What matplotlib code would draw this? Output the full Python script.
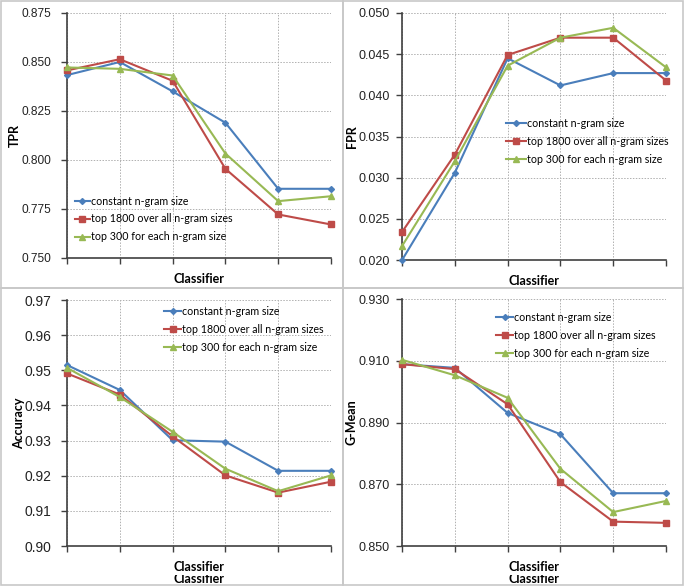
import matplotlib.pyplot as plt
from matplotlib.patches import Rectangle
from matplotlib.transforms import Bbox

# classifier positions (no tick labels in the original)
classifiers = [1, 2, 3, 4, 5, 6]
series_names = ["constant n-gram size",
                "top 1800 over all n-gram sizes",
                "top 300 for each n-gram size"]

tpr_const = [0.8433, 0.8500, 0.8350, 0.8190, 0.7853, 0.7853]
tpr_top1800 = [0.8457, 0.8514, 0.8404, 0.7955, 0.7722, 0.7671]
tpr_top300 = [0.8472, 0.8465, 0.8431, 0.8033, 0.7790, 0.7815]

fpr_const = [0.0200, 0.0306, 0.0445, 0.0412, 0.0427, 0.0427]
fpr_top1800 = [0.0234, 0.0328, 0.0449, 0.0470, 0.0470, 0.0418]
fpr_top300 = [0.0217, 0.0320, 0.0436, 0.0470, 0.0482, 0.0434]

acc_const = [0.9515, 0.9444, 0.9301, 0.9297, 0.9214, 0.9214]
acc_top1800 = [0.9491, 0.9431, 0.9312, 0.9201, 0.9152, 0.9183]
acc_top300 = [0.9507, 0.9424, 0.9325, 0.9220, 0.9156, 0.9201]

gm_const = [0.9089, 0.9077, 0.8931, 0.8862, 0.8671, 0.8671]
gm_top1800 = [0.9089, 0.9073, 0.8959, 0.8707, 0.8579, 0.8575]
gm_top300 = [0.9103, 0.9053, 0.8980, 0.8750, 0.8610, 0.8646]

colors = ["#4a7ebb", "#be4b48", "#98b954"]
markers = ["D", "s", "^"]
msizes = [3, 4.5, 4.5]

TICK_FONT = "Liberation Sans"
TEXT_FONT = "Lato"

fig = plt.figure(figsize=(6.85, 5.87), dpi=100)

# grey panel frames
for (x0, y0, w, h) in [(0.002, 0.510, 0.499, 0.488), (0.501, 0.510, 0.496, 0.488),
                       (0.002, 0.003, 0.499, 0.507), (0.501, 0.003, 0.496, 0.507)]:
    fig.patches.append(Rectangle((x0, y0), w, h, transform=fig.transFigure,
                                 fill=False, edgecolor="#c8c8c8", lw=1.2))

panels = [
    ([0.0978, 0.5605, 0.3854, 0.4174], "TPR", -0.174, (0.750, 0.875),
     [0.750 + 0.025 * i for i in range(6)], "%.3f", 8.6, 7,
     [tpr_const, tpr_top1800, tpr_top300], (0.03, 0.255), 1.4),
    ([0.5869, 0.5570, 0.3854, 0.4209], "FPR", -0.168, (0.020, 0.050),
     [0.020 + 0.005 * i for i in range(7)], "%.3f", 9, 5,
     [fpr_const, fpr_top1800, fpr_top300], (0.395, 0.575), 1.8),
    ([0.0978, 0.0698, 0.3854, 0.4191], "Accuracy", -0.157, (0.90, 0.97),
     [0.90 + 0.01 * i for i in range(8)], "%.2f", 10, 7,
     [acc_const, acc_top1800, acc_top300], (0.368, 0.976), 1.6),
    ([0.5869, 0.0698, 0.3854, 0.4208], "G-Mean", -0.168, (0.850, 0.930),
     [0.850 + 0.02 * i for i in range(5)], "%.3f", 9, 5,
     [gm_const, gm_top1800, gm_top300], (0.357, 0.947), 1.6),
]

for idx, (pos, ylabel, ylx, ylim, yticks, fmt, tsize, tpad, data, legpos, hlen) in enumerate(panels):
    ax = fig.add_axes(pos)
    for vals, name, c, m, ms in zip(data, series_names, colors, markers, msizes):
        ax.plot(classifiers, vals, color=c, marker=m, markersize=ms, lw=1.5,
                label=name, clip_on=False, zorder=3)
    ax.set_xlim(1, 6)
    ax.set_ylim(*ylim)
    ax.set_yticks(yticks)
    ax.set_yticklabels([fmt % t for t in yticks], fontsize=tsize, family=TICK_FONT, color="#222222")
    ax.set_xticks(classifiers)
    ax.set_xticklabels([])
    ax.grid(True, color="#b0b0b0", linestyle=(0, (1.5, 1.5)), lw=0.7)
    ax.spines["top"].set_visible(False)
    ax.spines["right"].set_visible(False)
    for s in ("left", "bottom"):
        ax.spines[s].set_color("#404040")
        ax.spines[s].set_linewidth(1.2)
    ax.tick_params(axis="both", direction="out", length=4, color="#404040", width=1.0)
    ax.tick_params(axis="y", pad=tpad)
    ax.set_ylabel(ylabel, fontsize=9, fontweight="bold", family=TEXT_FONT)
    ax.yaxis.set_label_coords(ylx, 0.5)
    ax.set_xlabel("Classifier", fontsize=9, fontweight="bold", family=TEXT_FONT, labelpad=3)
    ax.legend(loc="upper left", bbox_to_anchor=legpos, frameon=False,
              prop={"family": TEXT_FONT, "size": 7.7}, handlelength=hlen, handletextpad=0.1,
              labelspacing=0.65, borderpad=0, borderaxespad=0)
    if idx >= 2:
        # duplicated, partly hidden axis title seen in the original
        bb = ax.get_position()
        cx = (bb.x0 + bb.x1) / 2
        t = fig.text(cx, 0.006, "Classifier", ha="center", va="baseline",
                     fontsize=9, fontweight="bold", family=TEXT_FONT)
        clip = Bbox.from_extents(0, 0, fig.bbox.width, 0.021 * fig.bbox.height)
        t.set_clip_box(clip)
        t.set_clip_on(True)

fig.savefig("out.png", dpi=100)
